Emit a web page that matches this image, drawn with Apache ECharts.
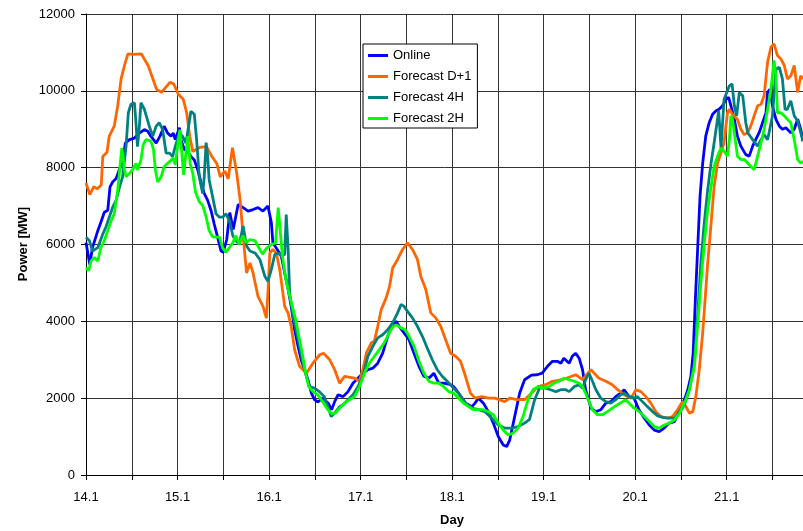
<!DOCTYPE html>
<html>
<head>
<meta charset="utf-8">
<script src="https://cdn.jsdelivr.net/npm/echarts@6/dist/echarts.min.js"></script>
<style>
html,body{margin:0;padding:0;background:#fff;}
#chart{width:803px;height:531px;}
</style>
</head>
<body>
<div id="chart"></div>
<script>
// x values are hours after 14.1 00:00
const dayLabels = ['14.1','15.1','16.1','17.1','18.1','19.1','20.1','21.1'];
const yTicks = [0,2000,4000,6000,8000,10000,12000];
const seriesNames = ['Online','Forecast D+1','Forecast 4H','Forecast 2H'];

const onlineT = [0,1,1.7,3.1,3.9,4.8,5.7,6.3,7,7.9,8.7,9.6,10.3,11.4,12.7,14,15.3,16.2,17,18.4,19.4,20.5,21.4,22.3,22.9,23.4,24.5,24.9,25.8,26.7,27.5,28.4,29.3,30.2,31,31.9,32.8,33.6,34.5,35.4,36,36.9,37.7,38.6,39.9,41.2,42.5,43.8,45.1,46.4,47.7,48.2,48.6,49,49.9,51.2,52.1,53,53.8,54.7,55.6,56.4,57.3,58.2,59.1,59.9,60.8,62.1,62.6,63.5,64.4,65.2,66.1,67.4,68.7,70,71.3,72.6,73.9,75.2,76.5,77.8,79.1,80,81.3,82.1,83.4,84.7,86,87.3,88.6,89.9,91.2,92.5,93.8,95.6,96.4,97.7,99.5,101.2,102,102.9,104.2,105.5,106.8,108.1,109.4,110.3,111.1,112.4,113.7,115,116.8,118.3,119.6,121,122.3,123.6,124.5,125.3,126.7,127.5,128.4,129.3,130.2,131,132.4,133.7,135,136.3,137.6,138.9,140.2,141.1,142.4,143.7,145,146.4,147.7,149,150.3,151.6,152.9,154.3,155.6,156.9,157.8,158.6,159.2,159.8,160.4,161,161.7,162.5,163.4,164.3,165.2,166,166.9,167.8,168.5,169.1,170,170.8,171.7,173,173.9,174.8,175.6,176.5,177.4,178.3,178.7,179.3,180,180.9,181.8,182.6,183.5,184.8,185.7,186.6,187.4,188];
const onlineV = [6050,5480,5920,6360,6580,6840,6890,7500,7630,7720,7940,8160,8640,8730,8770,8900,8990,8950,8820,8640,8820,9080,8900,8820,8900,8730,9040,8730,8470,8420,8290,8200,7940,7600,7330,7150,6880,6540,6190,5830,5800,6130,6830,6390,7040,6960,6870,6910,6960,6870,7000,7000,6570,6040,5910,5700,5260,4830,4390,3780,3350,3000,2740,2480,2130,1960,1900,2000,2000,1870,1700,1910,2090,2040,2170,2390,2520,2650,2740,2780,2910,3170,3610,3830,4000,3870,3700,3520,3170,2830,2570,2520,2650,2390,2390,2350,2300,2130,1870,1780,1870,2000,1870,1650,1350,1000,780,740,910,1520,2130,2480,2600,2610,2650,2830,2960,2960,2910,3040,2910,3090,3170,3040,2740,2220,1740,1650,1700,1870,1910,2040,2130,2220,2040,2000,1700,1480,1300,1170,1130,1220,1350,1390,1700,1960,2220,2570,3170,4625,5940,7250,8120,8820,9170,9390,9480,9520,9610,9780,9830,9610,9260,8820,8560,8340,8300,8560,8730,8910,9170,9430,9960,10040,9610,9260,9080,9000,9040,8910,9000,9260,9000,8690];

const d1T = [0,1,2,3,4,4.4,5.5,6.1,7.4,8.3,9.2,10.2,11,12.5,14.5,16.3,18.5,19.8,22,23,24.2,25.5,26.4,27.2,28,29.9,31.6,33,34.3,35.2,36.4,37.3,38.4,39.5,40.4,41.2,42.1,43,43.8,45.1,46.4,47.3,47.7,48.2,49,49.9,50.8,52.1,53,53.8,54.7,56,57.8,59.5,61.3,62.3,63.9,65.2,66.5,67.8,70.4,71.7,72.6,73.5,74.8,75.6,76.5,77.4,78.7,79.6,80.4,81.7,83,84.3,85.6,86.9,87.8,89.1,90.4,91.7,93,94.3,95.6,96.9,98.2,99.5,100.8,102,103.8,105.5,107.2,109.8,111.1,113,115,116.8,118.5,120.5,122.3,124.9,128.4,130.2,132.4,134.5,136.3,138,139.4,141.1,142.9,144.2,145.5,146.8,148.1,149.4,150.7,152.5,153.8,155.1,156.4,157.3,158.2,159.1,159.9,160.8,161.7,162.5,163,163.9,164.7,165.6,166.5,167.3,168.2,168.7,169.5,170.8,171.7,172.6,173.5,174.3,175.2,176.1,177,177.8,178.7,179.6,180.4,181.3,182.2,183.1,183.9,184.8,185.7,186.6,187.4,188];
const d1V = [7600,7300,7500,7450,7550,8290,8400,8820,9080,9600,10310,10700,10960,10950,10960,10660,10040,9960,10220,10180,9910,9780,9430,8820,8420,8530,8550,8290,8110,7760,7910,7710,8520,7870,7170,6220,5260,5520,5260,4650,4390,4085,4740,5780,5870,5780,5350,4390,4215,3870,3260,2830,2650,2910,3130,3170,3000,2740,2390,2570,2520,2440,2740,3170,3440,3480,3870,4300,4610,4910,5390,5610,5870,6040,5870,5610,5170,4830,4220,4090,3870,3520,3170,3090,2960,2570,2130,2000,2040,2000,2000,1910,2000,1960,1960,2130,2300,2350,2440,2480,2610,2480,2740,2520,2440,2350,2220,2090,2000,2220,2170,2040,1870,1650,1520,1480,1520,1700,1910,1780,1610,1650,2040,2740,3700,4800,5500,6550,7510,8120,8380,8650,9430,9520,9390,9260,9000,8860,8910,9080,9350,9610,9650,9870,10740,11140,11220,10920,10830,10660,10310,10390,10660,9960,10390,10310];

const h4T = [0,0.9,1.7,3.1,4.4,5.2,6.1,7,7.9,8.7,9.6,10.5,11.1,11.8,12.7,13.1,13.5,14,14.4,15.3,16.6,17.5,18.4,19.2,20.1,21,21.9,22.7,23.4,24.5,25.3,26.2,26.9,27.5,28.4,29,29.7,30.6,31,31.5,31.9,32.3,33.2,34.1,35,35.8,36.7,37.6,38.5,39.3,40.2,41.2,42.1,43,44.3,45.6,46.9,47.7,48.6,49.5,50.4,51.2,52.1,52.5,53,53.4,54.3,55.1,56,56.9,57.8,58.6,59.9,61.2,62.5,63.4,64.3,65.1,66.5,67.4,68.7,70,71.3,72.6,73.9,75.2,76.5,77.8,79.1,80.4,81.7,82.6,83.4,84.3,85.6,86.9,88.2,89.5,90.8,92.1,93.4,94.7,96,97.7,99.5,101.2,102.9,104.6,106.4,108.1,109.8,111.6,113.3,115,116.3,117.6,118.9,120.5,121.8,123.2,124.5,125.8,126.7,128,129.3,130.2,131,131.9,132.8,133.7,135,136.3,137.6,138.9,140.2,141.1,142.4,143.7,144.6,145.9,147.2,148.6,149.9,151.2,152.9,154.3,155.6,156.9,158.2,159.5,160.4,161.2,162.1,163,163.9,164.7,165.9,166.5,167.3,168.7,169.4,170,170.6,171.3,172.2,173,173.5,174.8,176.1,177,177.8,178.7,179.1,180,180.9,181.8,182.6,183.3,183.9,184.8,185.7,186.6,187.4,188];
const h4V = [6190,6100,5830,5920,6270,6450,6710,6970,7150,7460,7760,8550,9430,9650,9690,9170,8550,9080,9690,9520,9080,8820,9080,9170,8990,8380,8380,8290,8550,8900,8820,8640,9080,9470,9390,8730,7760,7330,7760,8650,8290,7680,7240,6800,6710,6710,6800,6620,6230,6100,6010,6480,5960,5830,5780,5610,5170,5040,5350,5740,5780,5700,5740,6780,5870,4740,4130,3780,3350,2910,2560,2300,2260,2170,2040,1780,1520,1600,1780,1830,1960,2090,2300,2570,3090,3350,3570,3650,3780,3960,4220,4440,4390,4260,4090,3870,3610,3300,3000,2740,2570,2440,2300,2130,1870,1740,1700,1650,1480,1300,1220,1220,1260,1350,1450,1950,2260,2260,2220,2170,2220,2220,2170,2300,2350,2260,2480,2650,2440,2220,2000,1910,1870,1960,2090,2130,2040,2000,2040,1910,1780,1650,1540,1500,1480,1480,1610,1830,2220,2900,4190,5500,6550,7420,8120,8650,9480,8510,9780,10130,10180,9610,9350,9960,9870,9170,8910,8730,8560,8730,8860,8730,8910,9350,10570,10610,10310,9520,9520,9740,9350,9210,8910,8700];

const h2T = [0,0.7,1.3,2.2,3.1,3.9,4.8,5.7,6.6,7.4,8.3,9,9.4,10.1,10.5,11.4,12.2,13.1,13.5,14.4,15,15.7,17,17.7,18.2,18.8,19.7,20.5,21.9,22.9,23.4,24,24.6,25.2,25.6,26.2,26.7,27.3,28,28.7,29.7,30.6,31.5,32.3,33.2,34.1,35,35.8,36.7,37.6,38.5,39.3,40.2,41.1,42,43,44.3,45.4,46.3,47.3,48.6,49.7,50.4,50.9,51.5,52.4,53.2,54.1,55,55.8,56.7,57.6,58.4,59.5,60.8,62.1,63.4,64.5,65.5,66.5,67.8,69.1,70.4,71.7,73,74.3,75.6,76.9,78.2,79.5,80.6,81.4,82.6,83.7,84.7,86,87.3,88.6,89.9,91.2,92.5,93.8,95.1,96.4,97.7,99,100.3,101.6,102.9,104.2,105.5,106.8,108.1,109.4,110.7,112,113.3,114.6,115.9,117.2,118.5,119.8,121.4,122.7,124,125.3,126.7,128,129.3,130.2,131,131.9,132.8,134.1,135.4,136.7,138,139.4,140.7,141.5,142.4,143.7,145.1,146.4,147.7,149,150.3,151.6,152.9,154.3,155.6,156.9,158.2,159.5,160.4,161.2,162.1,163,163.9,164.7,165.6,166.5,167.3,168.2,168.7,169.1,169.5,170,170.8,171.7,172.6,173.5,174.3,175.2,176.1,177,177.8,178.7,179.6,180.4,180.9,181.3,182.2,183.1,183.9,184.8,185.7,186.6,187.4,188];
const h2V = [5400,5310,5570,5660,5570,5920,6100,6360,6620,6800,7410,8120,8510,7940,7760,7850,7940,8110,7940,8200,8600,8730,8690,8470,7940,7630,7760,8030,8160,8250,8070,8550,8990,8290,7810,8380,8820,8110,7850,7370,7110,7020,6710,6360,6200,6190,6190,5920,5800,5920,6050,6230,6000,6230,6050,6130,6100,5900,5750,5900,6000,6040,6960,6390,5700,5090,4740,4390,4040,3610,3170,2650,2300,2170,2085,1900,1700,1590,1620,1740,1870,1960,2040,2300,2650,2910,3090,3260,3440,3700,3870,3910,3830,3780,3610,3350,2960,2650,2440,2390,2390,2300,2170,2130,2000,1870,1780,1700,1700,1700,1650,1570,1350,1170,1040,1090,1220,1520,1960,2220,2300,2260,2300,2390,2440,2520,2480,2440,2390,2300,2130,1910,1700,1570,1570,1650,1740,1830,1910,1960,1870,1740,1650,1520,1390,1260,1220,1300,1350,1430,1610,1870,2220,2800,3930,4980,6020,6900,7510,8030,8300,8510,8430,8300,8730,9350,9260,8910,8300,8210,8210,8120,8030,7950,8300,8650,9000,9520,10040,10790,10390,9430,9430,9350,9260,9170,8730,8210,8120,8170];

const colors = ['#0000FF','#FF6600','#008080','#00FF00'];
const timeLists = [onlineT, d1T, h4T, h2T];
const valueLists = [onlineV, d1V, h4V, h2V];

const FONT = '"Liberation Sans", Arial, sans-serif';
const chart = echarts.init(document.getElementById('chart'), null, {renderer:'canvas'});

const series = seriesNames.map((name, k) => ({
  name: name,
  type: 'line',
  data: timeLists[k].map((t, i) => [t, valueLists[k][i]]),
  showSymbol: false,
  symbol: 'none',
  smooth: false,
  lineStyle: {width: 2.8, color: colors[k]},
  itemStyle: {color: colors[k]},
  emphasis: {disabled: true},
  z: 2 + k
}));

chart.setOption({
  animation: false,
  backgroundColor: '#fff',
  grid: {left: 86, right: 0, top: 14, bottom: 56, containLabel: false},
  xAxis: {
    type: 'value', min: 0, max: 188, interval: 12,
    axisLine: {show: true, onZero: false, lineStyle: {color: '#000', width: 1}},
    axisTick: {show: true, inside: false, length: 5, lineStyle: {color: '#000'}},
    axisLabel: {
      margin: 16, color: '#000', fontSize: 13, fontFamily: FONT,
      showMaxLabel: false,
      formatter: v => (v % 24 === 0 && dayLabels[v / 24] !== undefined) ? dayLabels[v / 24] : ''
    },
    splitLine: {show: true, lineStyle: {color: '#333', width: 1}}
  },
  yAxis: {
    type: 'value', min: yTicks[0], max: yTicks[yTicks.length - 1], interval: 2000,
    axisLine: {show: true, lineStyle: {color: '#000', width: 1}},
    axisTick: {show: true, inside: false, length: 5, lineStyle: {color: '#000'}},
    axisLabel: {margin: 11, color: '#000', fontSize: 13, fontFamily: FONT, formatter: v => String(v)},
    splitLine: {show: true, lineStyle: {color: '#333', width: 1}}
  },
  legend: {
    orient: 'vertical', left: 363, top: 44,
    padding: [4, 6, 2, 5],
    itemWidth: 20, itemHeight: 3, itemGap: 6,
    icon: 'rect',
    backgroundColor: '#fff', borderColor: '#000', borderWidth: 1, borderRadius: 0,
    textStyle: {fontSize: 13, fontFamily: FONT, color: '#000', lineHeight: 15},
    data: seriesNames
  },
  graphic: [
    {type: 'text', x: 23, y: 244, rotation: Math.PI / 2,
     style: {text: 'Power [MW]', font: 'bold 13px ' + FONT, fill: '#000', textAlign: 'center', textVerticalAlign: 'middle'}},
    {type: 'text', x: 452, y: 520,
     style: {text: 'Day', font: 'bold 13px ' + FONT, fill: '#000', textAlign: 'center', textVerticalAlign: 'middle'}}
  ],
  series: series
});
</script>
</body>
</html>
